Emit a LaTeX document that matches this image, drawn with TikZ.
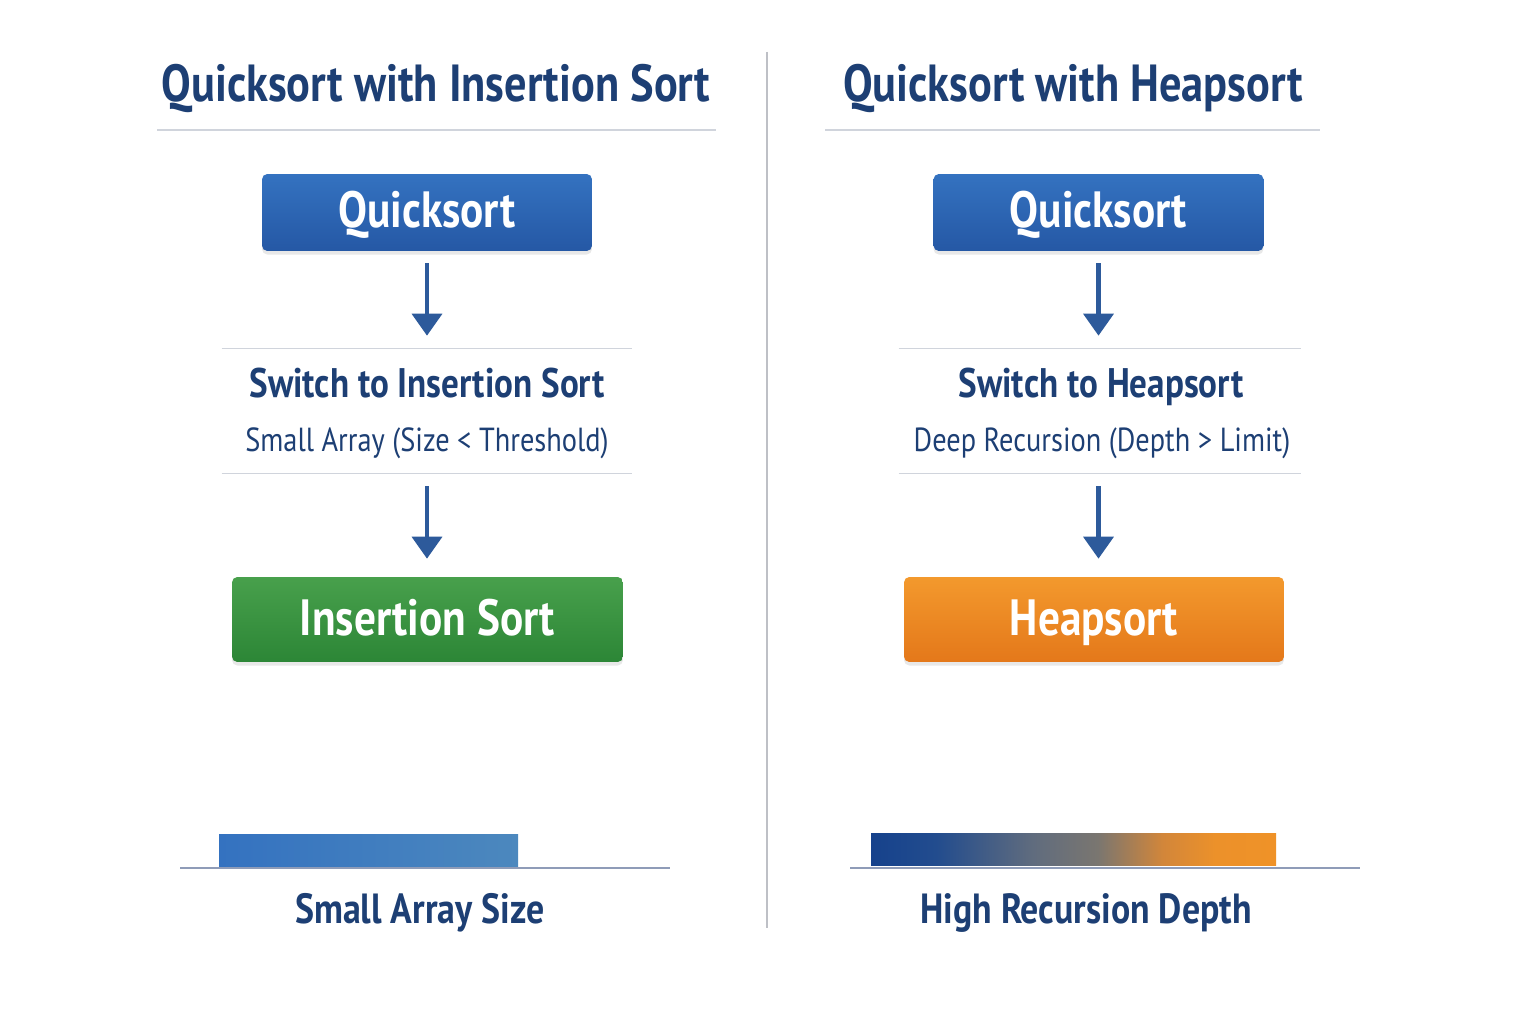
\documentclass[tikz,border=0pt]{standalone}
\usepackage{xcolor}
\usepackage{fontspec}
\usepackage{tikz}
\usetikzlibrary{arrows.meta, positioning, shadows}
\newfontfamily\diagfont[FakeStretch=0.85]{PT Sans}
\definecolor{navytext}{RGB}{29,63,116}
\definecolor{arrowblue}{RGB}{45,90,155}
\definecolor{qstop}{RGB}{52,114,192}
\definecolor{qsbot}{RGB}{37,88,165}
\definecolor{istop}{RGB}{72,160,76}
\definecolor{isbot}{RGB}{44,134,54}
\definecolor{hstop}{RGB}{243,153,45}
\definecolor{hsbot}{RGB}{228,120,26}
\definecolor{sepgray}{RGB}{208,212,220}
\definecolor{divgray}{RGB}{190,192,198}
\definecolor{basegray}{RGB}{143,156,184}
\definecolor{smallbarR}{RGB}{76,136,190}
\definecolor{deepA}{RGB}{22,66,140}
\definecolor{deepB}{RGB}{34,76,142}
\definecolor{deepC}{RGB}{96,108,126}
\definecolor{deepD}{RGB}{122,118,112}
\definecolor{deepE}{RGB}{210,134,58}
\definecolor{deepF}{RGB}{236,145,42}
\definecolor{deepG}{RGB}{239,146,40}
\pgfdeclarehorizontalshading{depthgrad}{100bp}{color(0bp)=(deepA); color(25bp)=(deepA);
  color(33bp)=(deepB); color(45bp)=(deepC); color(53bp)=(deepD); color(61bp)=(deepE);
  color(67.5bp)=(deepF); color(75bp)=(deepG); color(100bp)=(deepG)}
\tikzset{
  sortbox/.style={rectangle, rounded corners=3pt, text=white, text depth=0cm,
                  font=\diagfont\bfseries\fontsize{29}{34}\selectfont,
                  drop shadow={shadow xshift=0pt, shadow yshift=-2pt, opacity=0.18}},
  qsbox/.style={sortbox, top color=qstop, bottom color=qsbot, text height=0.62cm,
                minimum width=6.6cm, minimum height=1.54cm},
  isbox/.style={sortbox, top color=istop, bottom color=isbot, text height=0.66cm,
                minimum width=7.82cm, minimum height=1.7cm},
  hsbox/.style={sortbox, top color=hstop, bottom color=hsbot, text height=0.66cm,
                minimum width=7.6cm, minimum height=1.7cm},
  switchblock/.style={rectangle, minimum height=2.48cm, inner sep=0pt},
  flowarr/.style={-{Triangle[width=17pt,length=12.5pt]}, line width=2.3pt, draw=arrowblue},
}

\begin{document}
\begin{tikzpicture}[x=0.02cm,y=-0.02cm]
      \tikzset{
            coltitle/.style={anchor=base, text=navytext, font=\diagfont\bfseries\fontsize{29.7}{35}\selectfont},
            switchhead/.style={anchor=base, text=navytext, font=\diagfont\bfseries\fontsize{23.5}{28}\selectfont},
            switchcond/.style={anchor=base, text=navytext, font=\diagfont\fontsize{19}{23}\selectfont},
            barlabel/.style={anchor=base, text=navytext, font=\diagfont\bfseries\fontsize{24}{28}\selectfont},
            sepline/.style={sepgray, line width=0.9pt},
            baseline/.style={basegray, line width=1.7pt}
      }

      % frame
      \useasboundingbox[fill=white] (0,0) rectangle (1536,1024);

      % column centres
      \def\xL{427}
      \def\xR{1099}

      % divider
      \draw[divgray, line width=1.3pt] (767,52) -- (767,928);

      % Titles
      \node[coltitle] (titleL) at (436,102) {Quicksort with Insertion Sort};
      \node[coltitle] (titleR) at (1073,102) {Quicksort with Heapsort};
      \draw[sepline] (157,130) -- (716,130);
      \draw[sepline] (825,130) -- (1320,130);

      % --- Left column ---
      \node[qsbox] (qsL) at (\xL,212.5) {Quicksort};
      \node[switchblock, minimum width=8.2cm] (swL) at (\xL,411) {};
      \node[switchhead] (swLh) at (\xL,397) {Switch to Insertion Sort};
      \node[switchcond] (swLc) at (\xL,451) {Small Array (Size < Threshold)};
      \draw[sepline] (swL.north west) -- (swL.north east);
      \draw[sepline] (swL.south west) -- (swL.south east);
      \node[isbox] (isL) at (427.5,619.5) {Insertion Sort};

      \draw[flowarr, shorten <=0.24cm, shorten >=0.26cm] (qsL.south) -- (swL.north);
      \draw[flowarr, shorten <=0.26cm, shorten >=0.36cm] (swL.south) -- (isL.north -| swL.south);

      % --- Right column ---
      \node[qsbox] (qsR) at (1098.5,212.5) {Quicksort};
      \node[switchblock, minimum width=8.04cm] (swR) at (1100,411) {};
      \node[switchhead] (swRh) at (1101,397) {Switch to Heapsort};
      \node[switchcond] (swRc) at (1102,451) {Deep Recursion (Depth > Limit)};
      \draw[sepline] (swR.north west) -- (swR.north east);
      \draw[sepline] (swR.south west) -- (swR.south east);
      \node[hsbox] (hsR) at (1094,619.5) {Heapsort};

      \draw[flowarr, shorten <=0.24cm, shorten >=0.26cm] (qsR.south) -- (qsR.south |- swR.north);
      \draw[flowarr, shorten <=0.26cm, shorten >=0.36cm] (qsR.south |- swR.south) -- (qsR.south |- hsR.north);

      % --- Bars ---
      \shade[left color=qstop, right color=smallbarR] (219,834) rectangle (518,866);
      \draw[baseline] (180,868) -- (670,868);
      \node[barlabel] (barLlab) at (420,923) {Small Array Size};

      \shade[shading=depthgrad] (871,833) rectangle (1276,865);
      \draw[baseline] (850,868) -- (1360,868);
      \node[barlabel] (barRlab) at (1086,923) {High Recursion Depth};

\end{tikzpicture}
\end{document}
